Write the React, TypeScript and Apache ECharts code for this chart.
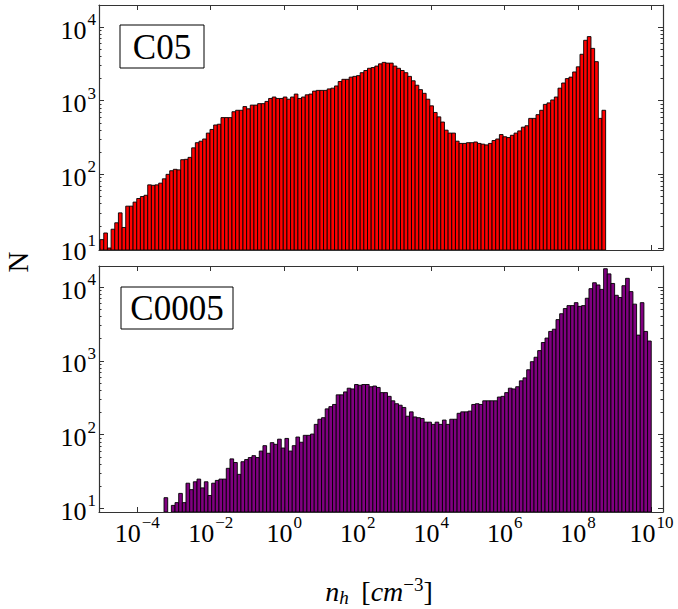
import React, { useEffect, useRef } from "react";
import * as echarts from "echarts";

// ---- data (bin counts; bins are equal in log10(n_h)) ----
const BIN_WIDTH = 0.0997; // decades per bin
const C05_START = -5.01; // log10 of the left edge of the first C05 bin
const C0005_START = -3.27; // log10 of the left edge of the first C0005 bin

const C05_COUNTS = [
  13, 16, 10, 18, 22, 30, 19, 37, 37, 42, 47, 50, 52, 72, 71, 72, 76, 87, 100, 112,
  117, 115, 158, 160, 170, 229, 269, 282, 302, 363, 407, 468, 479, 589, 589, 589, 708, 741, 741, 832,
  776, 871, 871, 912, 912, 977, 1072, 1122, 1072, 1072, 1122, 1047, 1122, 1230, 1072, 1122, 1202, 1230, 1349, 1380,
  1380, 1380, 1445, 1479, 1585, 1820, 1950, 1950, 2089, 2138, 2188, 2399, 2570, 2754, 2818, 2951, 3162, 3311, 3236, 3236,
  2951, 2754, 2570, 2399, 2138, 1862, 1622, 1413, 1259, 1047, 851, 692, 603, 513, 398, 363, 363, 282, 263, 263,
  269, 269, 275, 263, 257, 251, 263, 288, 302, 347, 324, 316, 339, 363, 389, 437, 457, 575, 575, 646,
  741, 891, 933, 1023, 1122, 1479, 1738, 1995, 2089, 2455, 2884, 4266, 6607, 7413, 5129, 3388, 575, 741,
];

const C0005_COUNTS = [
  14, 0, 11, 12, 16, 12, 22, 18, 23, 25, 19, 23, 15, 22, 24, 25, 25, 35, 47, 42,
  29, 43, 46, 49, 52, 49, 60, 71, 56, 78, 74, 87, 66, 89, 60, 71, 93, 79, 98, 98,
  102, 138, 162, 170, 224, 240, 257, 347, 347, 380, 427, 417, 479, 468, 479, 479, 447, 457, 437, 372,
  372, 331, 288, 263, 251, 234, 178, 204, 174, 170, 166, 148, 148, 138, 148, 138, 158, 138, 162, 162,
  195, 204, 204, 209, 257, 263, 257, 288, 288, 288, 288, 324, 331, 372, 427, 417, 447, 537, 589, 759,
  977, 1122, 1380, 1778, 2042, 2512, 2692, 3631, 4365, 5129, 5623, 5623, 6166, 5495, 5623, 7079, 9550, 11482, 10715, 9333,
  17783, 15136, 11220, 7762, 7244, 10471, 13183, 8710, 5888, 2239, 6166, 2512, 1862,
];

const X_TICK_EXPONENTS = [-4, -2, 0, 2, 4, 6, 8, 10];
const Y_TICK_EXPONENTS = [1, 2, 3, 4];
const PANEL_LABELS = ["C05", "C0005"];

// ---- layout / style ----
const W = 678;
const H = 609;
const FONT = "Liberation Serif";
const X_MIN = -5.04;
const X_MAX = 10.31;
const Y0_MIN = 0.973;
const Y0_MAX = 4.299;
const Y1_MIN = 0.952;
const Y1_MAX = 4.287;
const AXIS_COLOR = "#333";

function toBins(start: number, counts: number[]) {
  return counts.map((c, i) => [start + i * BIN_WIDTH, start + (i + 1) * BIN_WIDTH, c]);
}

function expText(v: number) {
  const e = Math.round(v);
  return `{b|10}{s|${e < 0 ? "\u2212" + Math.abs(e) : e}}`;
}

const labelRich = {
  b: { fontFamily: FONT, fontSize: 26, lineHeight: 32, color: "#000", verticalAlign: "bottom" },
  s: { fontFamily: FONT, fontSize: 17, lineHeight: 17, color: "#000", verticalAlign: "top", padding: [0, 0, 0, 1] },
};

function minorValues(min: number, max: number) {
  const out: number[] = [];
  for (let n = 0; n <= 5; n++) {
    for (let k = 2; k <= 9; k++) {
      const v = Math.log10(k) + n;
      if (v > min && v < max) out.push(v);
    }
  }
  return out;
}

function xAxis(gridIndex: number, position: string, showLabel: boolean) {
  return {
    type: "value",
    gridIndex,
    position,
    min: X_MIN,
    max: X_MAX,
    axisLine: { show: true, onZero: false, lineStyle: { color: AXIS_COLOR, width: 1.2 } },
    axisTick: { show: true, inside: true, length: 5, customValues: X_TICK_EXPONENTS, lineStyle: { color: AXIS_COLOR } },
    axisLabel: {
      show: showLabel,
      customValues: X_TICK_EXPONENTS,
      formatter: (v: number) => expText(v),
      fontFamily: FONT,
      fontSize: 26,
      color: "#000",
      rich: labelRich,
      margin: 2,
    },
    splitLine: { show: false },
  };
}

function yAxis(gridIndex: number, position: string, min: number, max: number, showLabel: boolean, minor: boolean) {
  const ticks = minor ? minorValues(min, max) : Y_TICK_EXPONENTS;
  return {
    type: "value",
    gridIndex,
    position,
    min,
    max,
    axisLine: { show: !minor, onZero: false, lineStyle: { color: AXIS_COLOR, width: 1.2 } },
    axisTick: { show: true, inside: true, length: minor ? 2.5 : 5, customValues: ticks, lineStyle: { color: AXIS_COLOR } },
    axisLabel: {
      show: showLabel,
      customValues: Y_TICK_EXPONENTS,
      formatter: (v: number) => expText(v),
      fontFamily: FONT,
      fontSize: 26,
      color: "#000",
      rich: labelRich,
      margin: 3,
    },
    splitLine: { show: false },
  };
}

function histSeries(data: number[][], xIdx: number, yIdx: number, yMin: number, fill: string) {
  return {
    type: "custom",
    xAxisIndex: xIdx,
    yAxisIndex: yIdx,
    clip: true,
    data: data.map((d) => [d[0], d[1], d[2] > 0 ? Math.log10(d[2]) : -1]),
    renderItem: (_params: any, api: any) => {
      const v = api.value(2);
      if (v < 0) return null;
      const p0 = api.coord([api.value(0), v]);
      const p1 = api.coord([api.value(1), yMin]);
      return {
        type: "rect",
        shape: { x: p0[0], y: p0[1], width: p1[0] - p0[0], height: p1[1] - p0[1] },
        style: { fill, stroke: "#000", lineWidth: 0.9 },
      };
    },
  };
}

export default function App() {
  const ref = useRef<HTMLDivElement>(null);

  useEffect(() => {
    if (!ref.current) return;
    const chart = echarts.init(ref.current, null, { renderer: "svg" });
    const option = {
      animation: false,
      backgroundColor: "#fff",
      textStyle: { fontFamily: FONT },
      grid: [
        { left: 99, top: 5, width: 564, height: 245 },
        { left: 99, top: 266, width: 564, height: 246 },
      ],
      xAxis: [
        xAxis(0, "bottom", false),
        xAxis(0, "top", false),
        xAxis(1, "bottom", true),
        xAxis(1, "top", false),
      ],
      yAxis: [
        yAxis(0, "left", Y0_MIN, Y0_MAX, true, false),
        yAxis(0, "left", Y0_MIN, Y0_MAX, false, true),
        yAxis(0, "right", Y0_MIN, Y0_MAX, false, false),
        yAxis(0, "right", Y0_MIN, Y0_MAX, false, true),
        yAxis(1, "left", Y1_MIN, Y1_MAX, true, false),
        yAxis(1, "left", Y1_MIN, Y1_MAX, false, true),
        yAxis(1, "right", Y1_MIN, Y1_MAX, false, false),
        yAxis(1, "right", Y1_MIN, Y1_MAX, false, true),
      ],
      series: [
        histSeries(toBins(C05_START, C05_COUNTS), 0, 0, Y0_MIN, "#ff0000"),
        histSeries(toBins(C0005_START, C0005_COUNTS), 2, 4, Y1_MIN, "#800080"),
      ],
      graphic: [
        {
          type: "rect",
          shape: { x: 120, y: 25, width: 84, height: 43 },
          style: { fill: "#fff", stroke: "#000", lineWidth: 1 },
          z: 10,
        },
        {
          type: "text",
          x: 162,
          y: 47,
          style: { text: PANEL_LABELS[0], fontFamily: FONT, fontSize: 35, fill: "#000", align: "center", verticalAlign: "middle" },
          z: 11,
        },
        {
          type: "rect",
          shape: { x: 121, y: 287, width: 112, height: 42 },
          style: { fill: "#fff", stroke: "#000", lineWidth: 1 },
          z: 10,
        },
        {
          type: "text",
          x: 177,
          y: 308,
          style: { text: PANEL_LABELS[1], fontFamily: FONT, fontSize: 35, fill: "#000", align: "center", verticalAlign: "middle" },
          z: 11,
        },
        {
          type: "text",
          x: 18,
          y: 262,
          rotation: Math.PI / 2,
          style: { text: "N", fontFamily: FONT, fontSize: 29, fill: "#000", align: "center", verticalAlign: "middle" },
        },
        {
          type: "text",
          x: 379,
          y: 591,
          style: {
            text: "{i|n}{sub|h}{r|\u2009 [}{i|cm}{sup|\u22123}{r|]}",
            fontFamily: FONT,
            fontSize: 28,
            align: "center",
            verticalAlign: "middle",
            rich: {
              i: { fontFamily: FONT, fontStyle: "italic", fontSize: 28, lineHeight: 32, verticalAlign: "middle", fill: "#000" },
              r: { fontFamily: FONT, fontSize: 28, lineHeight: 32, verticalAlign: "middle", fill: "#000" },
              sub: { fontFamily: FONT, fontStyle: "italic", fontSize: 19, lineHeight: 19, verticalAlign: "bottom", fill: "#000" },
              sup: { fontFamily: FONT, fontSize: 19, lineHeight: 19, verticalAlign: "top", fill: "#000" },
            },
          },
        },
      ],
    };
    chart.setOption(option as any);
    return () => chart.dispose();
  }, []);

  return (
    <div
      ref={ref}
      style={{ position: "fixed", left: 0, top: 0, width: W, height: H, background: "#fff" }}
    />
  );
}
